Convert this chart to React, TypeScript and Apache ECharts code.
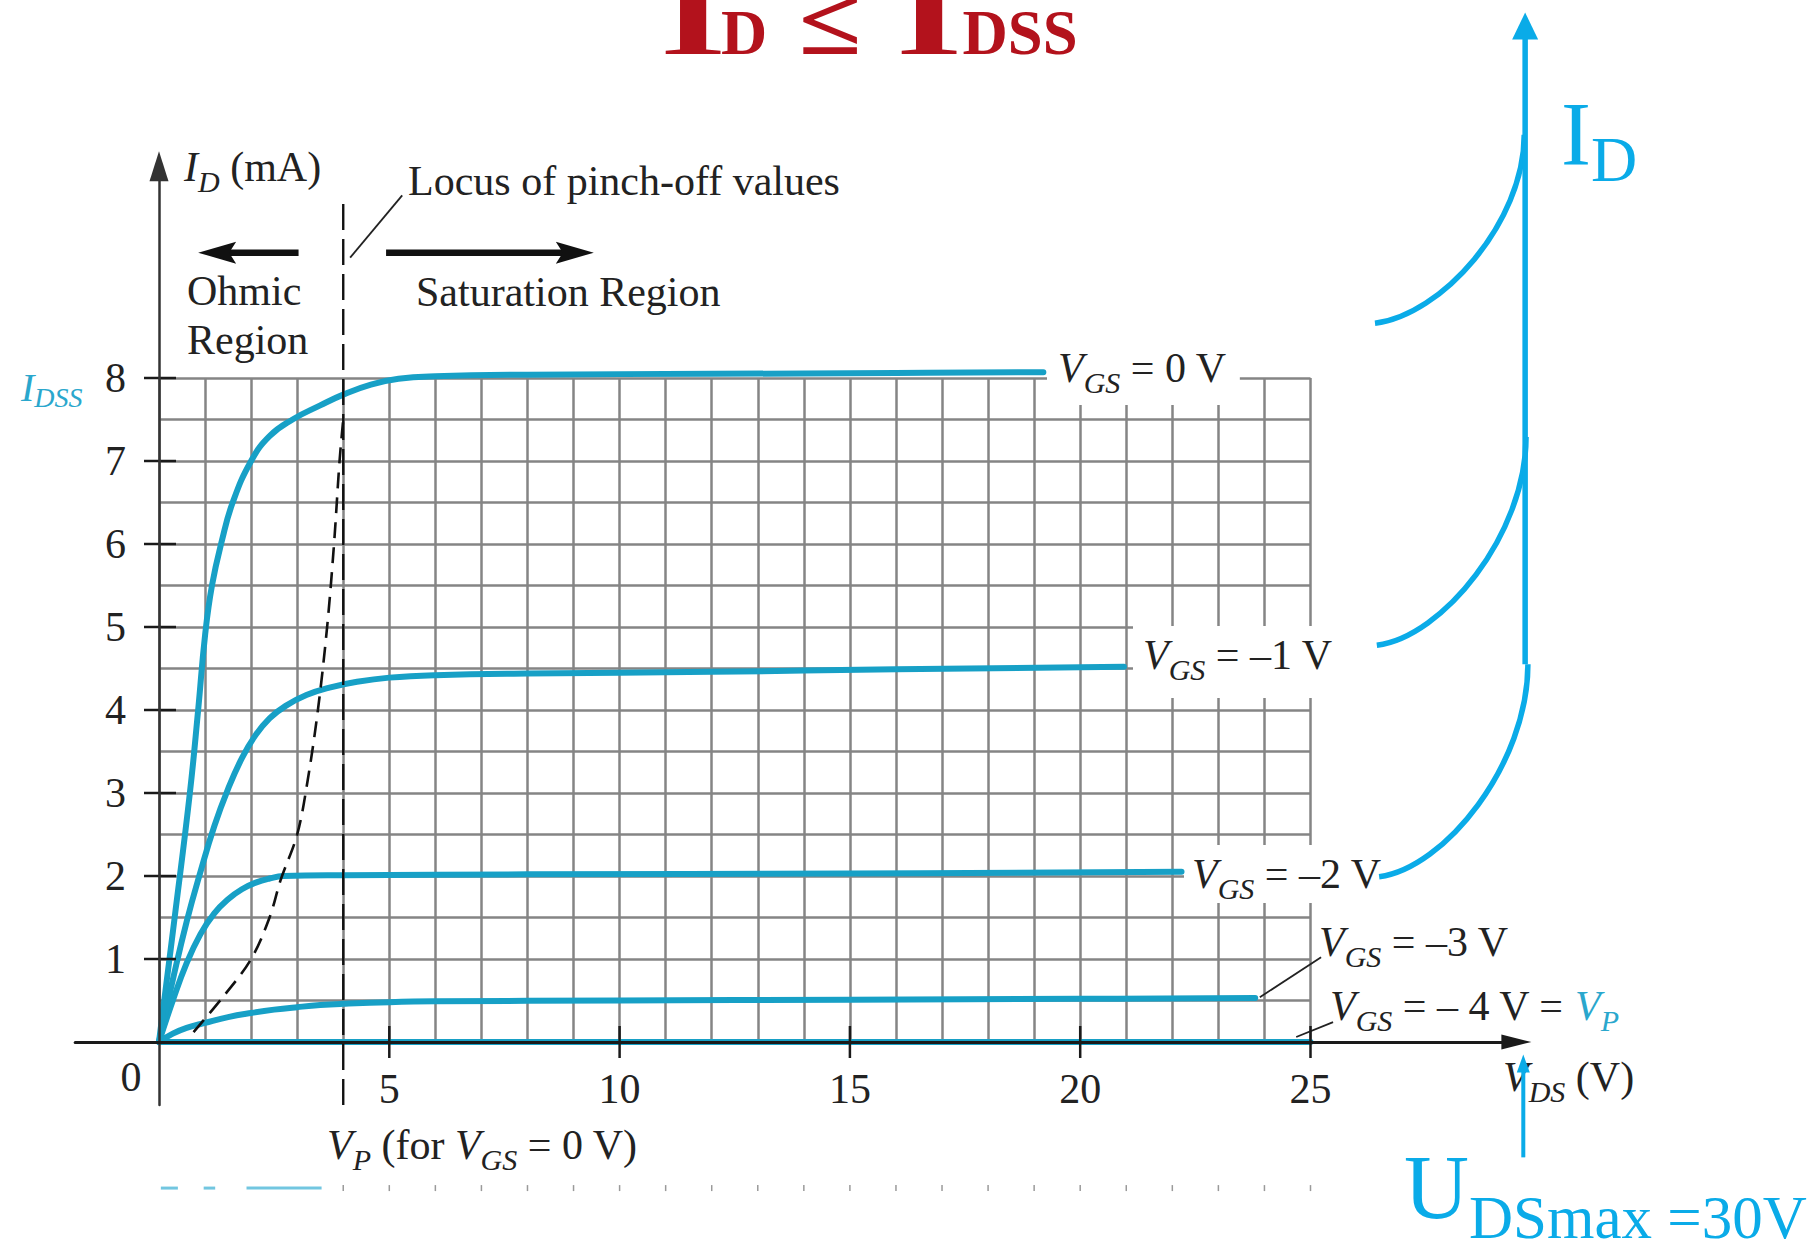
import React, { useEffect, useRef } from "react";
import * as echarts from "echarts";

// ---------- page / scale calibration ----------
const W = 1807;
const H = 1243;
const X0 = 159; // pixel column of VDS = 0 V
const KX = 46.06; // pixels per volt
const Y0 = 1042; // pixel row of ID = 0 mA
const KY = 83; // pixels per mA

const SERIF = "'Liberation Serif', 'Times New Roman', Times, serif";
const INK = "#222222";
const TEAL = "#17a0c6";
const TEAL_TEXT = "#2aa7cd";
const CYAN = "#0aabe8";
const RED = "#b3121c";
const GRID_GRAY = "#858585";

// ---------- axes ----------
const vdsAxisMin = -1.82;
const vdsAxisMax = 29.47;
const idAxisMin = -0.76;
const idAxisMax = 10.55;
const xTickValues = [5, 10, 15, 20, 25];
const yTickValues = [1, 2, 3, 4, 5, 6, 7, 8];
const gridVoltMax = 25; // graph paper extent
const gridCurrentMax = 8;
const gridVoltStep = 1;
const gridCurrentStep = 0.5;

// ---------- drain characteristics [VDS (V), ID (mA)] ----------
const vgs0 = [
  [0, 0], [0.34, 1.5], [0.67, 3], [0.85, 4], [1.0, 4.9], [1.15, 5.5], [1.37, 6.05], [1.6, 6.5],
  [2.0, 7.0], [2.4, 7.3], [2.9, 7.5], [3.5, 7.67], [4.0, 7.8], [4.6, 7.92], [5.2, 7.99],
  [6, 8.02], [8, 8.04], [12, 8.05], [16, 8.06], [19.2, 8.07],
];
const vgsMinus1 = [
  [0, 0], [0.3, 0.75], [0.6, 1.45], [0.9, 2.05], [1.2, 2.6], [1.5, 3.05], [1.8, 3.42],
  [2.1, 3.7], [2.4, 3.9], [2.75, 4.05], [3.2, 4.18], [3.7, 4.27], [4.3, 4.34], [5.0, 4.39],
  [6, 4.42], [8, 4.44], [12, 4.46], [16, 4.49], [20.95, 4.52],
];
const vgsMinus2 = [
  [0, 0], [0.3, 0.5], [0.6, 0.95], [0.9, 1.3], [1.2, 1.55], [1.5, 1.72], [1.8, 1.84],
  [2.1, 1.92], [2.4, 1.97], [2.7, 2.0], [4, 2.01], [8, 2.02], [15, 2.03], [22.2, 2.05],
];
const vgsMinus3 = [
  [0, 0], [0.3, 0.1], [0.6, 0.17], [1, 0.23], [1.5, 0.3], [2, 0.35], [2.5, 0.39], [3, 0.42],
  [3.5, 0.445], [4, 0.46], [5, 0.48], [6, 0.49], [10, 0.5], [15, 0.51], [20, 0.52], [23.8, 0.53],
];
const vgsMinus4 = [[0, 0], [25, 0]];

// locus of pinch-off values (dashed)
const pinchOffLocus = [
  [0.75, 0.12], [1.4, 0.55], [2.0, 1.0], [2.4, 1.5], [2.64, 1.95], [3.0, 2.5], [3.23, 3.16],
  [3.45, 4.0], [3.65, 5.0], [3.8, 6.0], [3.92, 7.0], [4.0, 7.5],
];
// VP for VGS = 0 V (vertical dashed line)
const pinchOffLine = [[4, -0.76], [4, 10.14]];

// ---------- annotation geometry (data units: V, mA) ----------
// [tailV, tailI, tipV, tipI]
const regionArrows = [
  [3.03, 9.51, 0.85, 9.51],
  [4.93, 9.51, 9.44, 9.51],
];
// [x1, y1, x2, y2]
const leaderLines = [
  [5.28, 10.2, 4.15, 9.45],
  [23.9, 0.54, 25.23, 1.02],
  [24.69, 0.06, 25.49, 0.24],
];
// blue ID axis: x, bottom, arrow-head centre
const idArrow = [29.66, 4.55, 12.24];
// blue UDSmax arrow: x, bottom, arrow-head centre
const udsArrow = [29.62, -1.39, -0.26];
// blue arcs [startV, startI, endV, endI]
const blueArcs = [
  [26.4, 8.66, 29.64, 10.93],
  [26.44, 4.78, 29.68, 7.29],
  [26.49, 1.99, 29.72, 4.55],
];
// faint scan marks under the chart
const scanRowCurrent = -1.76;
const scanTickVolts = [4, 5, 6, 7, 8, 9, 10, 11, 12, 13, 14, 15, 16, 17, 18, 19, 20, 21, 22, 23, 24, 25];
const scanDashes = [[0.04, 0.41], [0.97, 1.22], [1.9, 3.53]];

// ---------- text helpers ----------
const mkRich = (color: string, size: number, subSize: number, shift: number) => ({
  it: { fontFamily: SERIF, fontSize: size, fontStyle: "italic", fill: color },
  rm: { fontFamily: SERIF, fontSize: size, fill: color },
  sub: { fontFamily: SERIF, fontSize: subSize, fontStyle: "italic", fill: color, padding: [shift * 2, 0, 0, 0] },
  tit: { fontFamily: SERIF, fontSize: size, fontStyle: "italic", fill: TEAL_TEXT },
  tsub: { fontFamily: SERIF, fontSize: subSize, fontStyle: "italic", fill: TEAL_TEXT, padding: [shift * 2, 0, 0, 0] },
  up: { fontFamily: SERIF, fontSize: size, fill: color },
  dn: { fontFamily: SERIF, fontSize: subSize, fill: color, padding: [shift * 2, 0, 0, 0] },
});

const RICH = mkRich(INK, 42, 30, 14);

function textEl(x: number, y: number, text: string, opts: any = {}) {
  const pad = opts.pad || [0, 0, 0, 0];
  return {
    type: "text",
    x: x - pad[3],
    y: y - (pad[0] - pad[2]) / 2,
    z: opts.z ?? 1,
    silent: true,
    scaleX: opts.sx || 1,
    style: {
      text,
      rich: opts.rich || RICH,
      fill: opts.fill || INK,
      fontFamily: SERIF,
      fontSize: opts.fontSize || 42,
      align: opts.align || "left",
      textAlign: opts.align || "left",
      verticalAlign: "middle",
      textVerticalAlign: "middle",
      backgroundColor: opts.bg,
      padding: opts.bg ? pad : undefined,
    },
  };
}

function titlePiece(cx: number, baseline: number, t: string, fs: number, sx: number) {
  return {
    type: "text",
    x: cx,
    y: baseline - 0.3375 * fs,
    z: 1,
    silent: true,
    scaleX: sx,
    style: {
      text: t,
      fill: RED,
      fontFamily: SERIF,
      fontWeight: "bold",
      fontSize: fs,
      align: "center",
      textAlign: "center",
      verticalAlign: "middle",
      textVerticalAlign: "middle",
    },
  };
}

function buildGraphic() {
  const els: any[] = [];
  // title  I_D ≤ I_DSS
  els.push(titlePiece(693, 54, "I", 92, 1.85));
  els.push(titlePiece(744, 54, "D", 64, 1.0));
  els.push(titlePiece(830, 54, "≤", 96, 1.2));
  els.push(titlePiece(929, 54, "I", 92, 1.85));
  els.push(titlePiece(1020, 54, "DSS", 64, 0.98));

  els.push(textEl(184, 167, "{it|I}{sub|D}{rm| (mA)}"));
  els.push(textEl(408, 181, "{rm|Locus of pinch-off values}"));
  els.push(textEl(187, 291, "{rm|Ohmic}"));
  els.push(textEl(187, 340, "{rm|Region}"));
  els.push(textEl(416, 292, "{rm|Saturation Region}"));
  els.push(textEl(21, 387, "{tit|I}{tsub|DSS}", { rich: mkRich(TEAL_TEXT, 40, 28, 10) }));
  els.push(textEl(131, 1077, "{rm|0}", { align: "center" }));
  els.push(textEl(327, 1145, "{it|V}{sub|P}{rm| (for }{it|V}{sub|GS}{rm| = 0 V)}"));
  els.push(textEl(1503, 1077, "{it|V}{sub|DS}{rm| (V)}"));

  els.push(textEl(1058, 368, "{it|V}{sub|GS}{rm| = 0 V}", { bg: "#ffffff", pad: [9, 13, 8, 11] }));
  els.push(textEl(1143, 655, "{it|V}{sub|GS}{rm| = –1 V}", { bg: "#ffffff", pad: [0, 8, 14, 10] }));
  els.push(textEl(1192, 874, "{it|V}{sub|GS}{rm| = –2 V}", { bg: "#ffffff", pad: [0, 8, 0, 8] }));
  els.push(textEl(1319, 942, "{it|V}{sub|GS}{rm| = –3 V}"));
  els.push(textEl(1330, 1006, "{it|V}{sub|GS}{rm| = – 4 V = }{tit|V}{tsub|P}"));

  // right-hand blue labels
  els.push(textEl(1561, 134, "{up|I}{dn|D}", { rich: mkRich(CYAN, 90, 64, 25) }));
  els.push(textEl(1404, 1187, "{up|U}{dn|DSmax =30V}", { rich: mkRich(CYAN, 90, 61, 30) }));
  return els;
}

// ---------- option ----------
const xMin1 = -X0 / KX;
const xMax1 = (W - X0) / KX;
const yMin1 = -(H - Y0) / KY;
const yMax1 = Y0 / KY;

function buildOption() {
  const tickData = [
    ...xTickValues.map((v) => [0, v]),
    ...yTickValues.map((c) => [1, c]),
  ];
  const curve = (name: string, data: number[][]) => ({
    type: "line",
    name,
    xAxisIndex: 0,
    yAxisIndex: 0,
    data,
    showSymbol: false,
    symbol: "none",
    smooth: 0.45,
    lineStyle: { color: TEAL, width: 6, cap: "round", join: "round" },
    z: 3,
    silent: true,
  });
  const labelStyle = { color: INK, fontFamily: SERIF, fontSize: 42 };

  return {
    animation: false,
    backgroundColor: "#ffffff",
    grid: [
      // axes with arrows (extend beyond the graph paper)
      {
        left: X0 + vdsAxisMin * KX,
        width: (vdsAxisMax - vdsAxisMin) * KX,
        top: Y0 - idAxisMax * KY,
        height: (idAxisMax - idAxisMin) * KY,
        containLabel: false,
      },
      // full-page coordinate system for annotations
      { left: 0, top: 0, width: W, height: H, containLabel: false },
      // graph paper: 0..25 V x 0..8 mA, tick labels
      {
        left: X0,
        top: Y0 - gridCurrentMax * KY,
        width: gridVoltMax * KX,
        height: gridCurrentMax * KY,
        containLabel: false,
      },
    ],
    xAxis: [
      {
        type: "value",
        gridIndex: 0,
        min: vdsAxisMin,
        max: vdsAxisMax,
        z: 6,
        axisLine: {
          onZero: true,
          symbol: ["none", "triangle"],
          symbolSize: [15, 30],
          lineStyle: { color: "#1a1a1a", width: 3 },
        },
        axisTick: { show: false },
        splitLine: { show: false },
        axisLabel: { show: false },
      },
      { type: "value", gridIndex: 1, min: xMin1, max: xMax1, show: false },
      {
        type: "value",
        gridIndex: 2,
        min: 0,
        max: gridVoltMax,
        interval: gridVoltStep,
        z: 0,
        axisLine: { show: false },
        axisTick: { show: false },
        splitLine: { show: true, lineStyle: { color: GRID_GRAY, width: 2.5 } },
        axisLabel: { ...labelStyle, customValues: xTickValues, margin: 26 },
      },
    ],
    yAxis: [
      {
        type: "value",
        gridIndex: 0,
        min: idAxisMin,
        max: idAxisMax,
        z: 6,
        axisLine: {
          onZero: true,
          symbol: ["none", "triangle"],
          symbolSize: [19, 30],
          lineStyle: { color: "#333333", width: 2.5 },
        },
        axisTick: { show: false },
        splitLine: { show: false },
        axisLabel: { show: false },
      },
      { type: "value", gridIndex: 1, min: yMin1, max: yMax1, show: false },
      {
        type: "value",
        gridIndex: 2,
        min: 0,
        max: gridCurrentMax,
        interval: gridCurrentStep,
        z: 0,
        axisLine: { show: false },
        axisTick: { show: false },
        splitLine: { show: true, lineStyle: { color: GRID_GRAY, width: 2.5 } },
        axisLabel: { ...labelStyle, customValues: yTickValues, margin: 33 },
      },
    ],
    series: [
      {
        type: "custom",
        name: "ticks",
        xAxisIndex: 0,
        yAxisIndex: 0,
        data: tickData,
        z: 6,
        silent: true,
        renderItem: (params: any, api: any) => {
          const kind = api.value(0);
          const v = api.value(1);
          const p = kind === 0 ? api.coord([v, 0]) : api.coord([0, v]);
          const shape =
            kind === 0
              ? { x1: p[0], y1: p[1] - 16, x2: p[0], y2: p[1] + 16 }
              : { x1: p[0] - 15, y1: p[1], x2: p[0] + 17, y2: p[1] };
          return { type: "line", shape, style: { stroke: "#1a1a1a", lineWidth: 2.5 } };
        },
      },
      curve("VGS = -4 V", vgsMinus4),
      curve("VGS = -3 V", vgsMinus3),
      curve("VGS = -2 V", vgsMinus2),
      curve("VGS = -1 V", vgsMinus1),
      curve("VGS = 0 V", vgs0),
      {
        type: "line",
        name: "locus",
        xAxisIndex: 0,
        yAxisIndex: 0,
        data: pinchOffLocus,
        showSymbol: false,
        symbol: "none",
        smooth: 0.35,
        lineStyle: { color: "#111111", width: 2.6, type: [16, 9] },
        z: 4,
        silent: true,
      },
      {
        type: "line",
        name: "VP line",
        xAxisIndex: 0,
        yAxisIndex: 0,
        data: pinchOffLine,
        showSymbol: false,
        symbol: "none",
        lineStyle: { color: "#111111", width: 2.4, type: [26, 9] },
        z: 4,
        silent: true,
      },
      {
        type: "custom",
        name: "region arrows",
        xAxisIndex: 1,
        yAxisIndex: 1,
        data: regionArrows,
        z: 4,
        silent: true,
        renderItem: (params: any, api: any) => {
          const t = api.coord([api.value(0), api.value(1)]);
          const h = api.coord([api.value(2), api.value(3)]);
          const dir = Math.sign(h[0] - t[0]);
          const headLen = 38;
          const half = 11;
          const base = h[0] - dir * headLen;
          return {
            type: "group",
            children: [
              {
                type: "line",
                shape: { x1: t[0], y1: t[1], x2: base + dir * 8, y2: h[1] },
                style: { stroke: "#111111", lineWidth: 6.5 },
              },
              {
                type: "polygon",
                shape: {
                  points: [
                    [h[0], h[1]],
                    [base, h[1] - half],
                    [base + dir * 7, h[1]],
                    [base, h[1] + half],
                  ],
                },
                style: { fill: "#111111" },
              },
            ],
          };
        },
      },
      {
        type: "custom",
        name: "leaders",
        xAxisIndex: 1,
        yAxisIndex: 1,
        data: leaderLines,
        z: 4,
        silent: true,
        renderItem: (params: any, api: any) => {
          const a = api.coord([api.value(0), api.value(1)]);
          const b = api.coord([api.value(2), api.value(3)]);
          return {
            type: "line",
            shape: { x1: a[0], y1: a[1], x2: b[0], y2: b[1] },
            style: { stroke: "#222222", lineWidth: 1.8 },
          };
        },
      },
      {
        type: "custom",
        name: "blue arcs",
        xAxisIndex: 1,
        yAxisIndex: 1,
        data: blueArcs,
        z: 3,
        silent: true,
        renderItem: (params: any, api: any) => {
          const a = api.coord([api.value(0), api.value(1)]);
          const b = api.coord([api.value(2), api.value(3)]);
          const dy = a[1] - b[1];
          return {
            type: "bezierCurve",
            shape: {
              x1: a[0],
              y1: a[1],
              x2: b[0],
              y2: b[1],
              cpx1: a[0] + 0.44 * (b[0] - a[0]),
              cpy1: a[1] - 0.04 * dy,
              cpx2: b[0],
              cpy2: b[1] + 0.47 * dy,
            },
            style: { stroke: CYAN, lineWidth: 5.5, fill: null },
          };
        },
      },
      {
        type: "line",
        name: "ID axis",
        xAxisIndex: 1,
        yAxisIndex: 1,
        data: [
          { value: [idArrow[0], idArrow[1]], symbol: "none" },
          { value: [idArrow[0], idArrow[2]], symbol: "triangle", symbolSize: [26, 27] },
        ],
        showSymbol: true,
        symbol: "triangle",
        lineStyle: { color: CYAN, width: 5.5 },
        itemStyle: { color: CYAN },
        z: 3,
        clip: false,
        silent: true,
      },
      {
        type: "line",
        name: "UDSmax arrow",
        xAxisIndex: 1,
        yAxisIndex: 1,
        data: [
          { value: [udsArrow[0], udsArrow[1]], symbol: "none" },
          { value: [udsArrow[0], udsArrow[2]], symbol: "triangle", symbolSize: [13, 18] },
        ],
        showSymbol: true,
        symbol: "triangle",
        lineStyle: { color: CYAN, width: 4 },
        itemStyle: { color: CYAN },
        z: 3,
        clip: false,
        silent: true,
      },
      {
        type: "custom",
        name: "scan ticks",
        xAxisIndex: 1,
        yAxisIndex: 1,
        data: scanTickVolts.map((v) => [v, scanRowCurrent]),
        z: 1,
        silent: true,
        renderItem: (params: any, api: any) => {
          const p = api.coord([api.value(0), api.value(1)]);
          return {
            type: "line",
            shape: { x1: p[0], y1: p[1] - 3, x2: p[0], y2: p[1] + 3 },
            style: { stroke: "#9a9a9a", lineWidth: 1.5 },
          };
        },
      },
      {
        type: "custom",
        name: "scan dashes",
        xAxisIndex: 1,
        yAxisIndex: 1,
        data: scanDashes.map((d) => [d[0], scanRowCurrent, d[1]]),
        z: 1,
        silent: true,
        renderItem: (params: any, api: any) => {
          const a = api.coord([api.value(0), api.value(1)]);
          const b = api.coord([api.value(2), api.value(1)]);
          return {
            type: "line",
            shape: { x1: a[0], y1: a[1], x2: b[0], y2: b[1] },
            style: { stroke: "#4fb8d8", lineWidth: 3, opacity: 0.8 },
          };
        },
      },
    ],
    graphic: { elements: buildGraphic() },
  };
}

export default function App() {
  const ref = useRef<HTMLDivElement>(null);
  useEffect(() => {
    if (!ref.current) return;
    const chart = echarts.init(ref.current, undefined, { renderer: "svg", width: W, height: H });
    chart.setOption(buildOption() as any);
    return () => chart.dispose();
  }, []);
  return (
    <div
      ref={ref}
      style={{ position: "absolute", left: 0, top: 0, width: W, height: H, background: "#fff" }}
    />
  );
}
